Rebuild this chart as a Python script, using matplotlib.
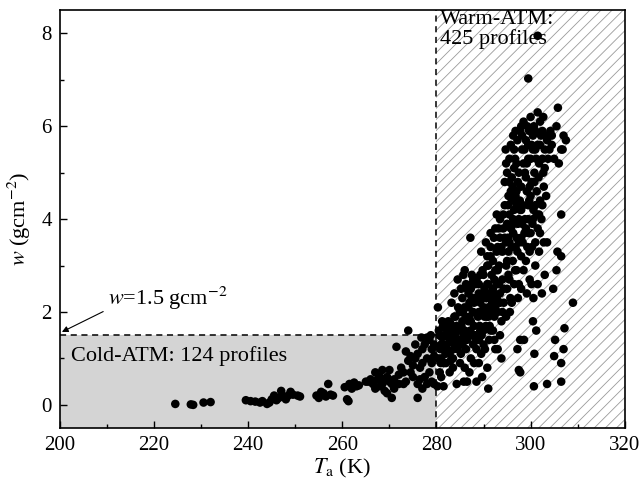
import matplotlib
matplotlib.use("Agg")
import matplotlib.pyplot as plt
from matplotlib.patches import Rectangle
from matplotlib.ticker import MultipleLocator

plt.rcParams['font.family'] = ['Liberation Serif', 'DejaVu Serif']
plt.rcParams['mathtext.fontset'] = 'stix'
plt.rcParams['hatch.linewidth'] = 0.6

# cold-atmosphere profiles (Ta < 280 K)
cold_t = [224.5, 227.8, 228.3, 230.5, 232.0,
          239.5, 240.5, 241.5, 242.5, 243.0, 244.0, 244.5, 245.0, 245.5, 246.0,
          246.5, 247.0, 247.5, 248.0, 248.5, 249.0, 249.5, 250.5, 251.0,
          254.5, 255.0, 255.5, 256.0, 256.5, 257.0, 257.5, 258.0,
          260.5, 261.0, 261.3, 261.5, 262.0, 262.5, 263.0, 263.5,
          265.5, 266.5, 267.0, 267.5, 268.0, 268.5, 269.0, 269.5, 270.0, 270.5,
          271.0, 271.5, 272.0, 272.5, 273.0, 273.5, 274.0, 274.5, 275.0, 275.5,
          276.0, 276.5, 277.0, 277.5, 278.0, 278.5, 279.0, 279.5,
          276.0, 276.5, 277.0, 277.5, 278.0, 278.5, 279.0, 279.5, 278.0, 279.0,
          277.0, 276.0, 275.0, 274.0, 274.5, 273.0, 272.0, 271.0, 270.0, 269.0,
          268.0, 267.0, 266.0, 265.0, 269.5, 268.5, 270.5, 273.5, 275.5, 276.8,
          278.8, 279.5]
cold_w = [0.02, 0.01, 0.0, 0.05, 0.06,
          0.10, 0.08, 0.07, 0.05, 0.08, 0.02, 0.05, 0.12, 0.20, 0.10,
          0.15, 0.30, 0.18, 0.12, 0.20, 0.28, 0.22, 0.20, 0.18,
          0.20, 0.15, 0.28, 0.25, 0.18, 0.45, 0.22, 0.20,
          0.38, 0.12, 0.08, 0.45, 0.35, 0.48, 0.40, 0.42,
          0.50, 0.45, 0.70, 0.55, 0.40, 0.75, 0.30, 0.60, 0.50, 0.15,
          0.55, 1.25, 0.45, 0.80, 0.70, 1.15, 1.60, 1.05, 0.85, 1.00,
          0.15, 0.55, 0.90, 1.30, 1.45, 0.70, 1.20, 0.45,
          1.10, 0.80, 1.20, 0.60, 1.00, 1.40, 0.90, 1.30, 0.45, 0.50,
          0.35, 0.45, 0.60, 0.95, 0.70, 0.45, 0.65, 0.35, 0.75, 0.55,
          0.60, 0.35, 0.55, 0.50, 0.25, 0.45, 0.45, 0.50, 1.30, 1.45,
          1.50, 1.05]

# warm-atmosphere profiles (Ta >= 280 K)
warm_t = [280.3, 280.5, 281.0, 281.0, 280.7, 281.5, 280.2, 281.2, 281.8, 280.8, 281.5, 281.2, 280.4, 281.9,
          282.5, 283.0, 282.3, 283.5, 283.5, 282.8, 283.2, 283.8, 282.0, 283.0, 283.7, 282.6,
          284.5, 285.0, 285.5, 284.8, 285.2, 284.3, 285.8, 285.5, 285.0, 285.8, 284.3, 285.6, 286.0,
          286.5, 287.0, 287.5, 287.2, 286.8, 287.5, 286.3, 287.8, 287.3, 286.5, 287.5, 286.8, 287.2, 287.8, 286.2,
          288.5, 289.0, 289.5, 289.3, 288.8, 289.6, 288.4, 289.0, 288.5, 289.8, 290.0, 289.2, 288.2, 289.7,
          290.5, 290.8, 291.0, 291.3, 290.7, 291.5, 290.3, 290.8, 291.0, 291.5, 291.8, 290.2, 291.2, 291.7,
          292.5, 293.0, 293.3, 292.8, 293.5, 292.3, 293.5, 292.5, 293.8, 293.5, 292.8, 294.0, 293.0, 292.2,
          294.5, 295.0, 295.3, 294.8, 295.5, 294.3, 295.6, 294.7, 295.0, 295.8, 294.5, 295.2, 295.7, 294.2, 295.5,
          296.5, 297.0, 297.3, 296.8, 297.5, 296.3, 297.2, 296.7, 297.5, 297.8, 297.2, 297.5, 297.8, 296.3, 297.8,
          296.5, 297.0, 296.2, 297.3, 298.0,
          298.5, 299.0, 299.5, 298.8, 299.2, 298.4, 299.5, 298.7, 299.3, 298.5, 299.8, 299.2, 298.6, 299.5,
          298.2, 299.8, 299.0, 298.2, 299.7, 299.3,
          300.5, 301.0, 301.5, 300.8, 301.3, 300.6, 301.5, 300.3, 301.0, 301.5, 300.6, 301.2, 300.5, 300.8,
          300.7, 301.5, 302.0, 301.8, 300.2, 302.0, 301.8, 300.2,
          302.5, 303.0, 302.7, 303.3, 302.3, 302.8, 303.0, 302.4, 303.5, 303.5, 302.5, 303.5,
          304.5, 305.0, 305.5, 304.8, 305.2, 305.0, 305.5, 305.7, 304.5, 305.8, 306.0,
          306.5, 307.0, 306.5, 306.5, 307.2, 307.0, 306.5, 306.5, 309.0, 307.5, 306.8,
          295.5, 296.0, 296.5, 297.0, 297.5, 298.0, 298.5, 299.0, 299.5, 300.0, 300.5, 301.0, 301.5, 302.0,
          302.5, 303.0, 300.0, 299.5, 298.0, 297.0, 296.0, 300.5, 301.0, 296.5, 298.0, 300.0, 301.0, 299.0,
          297.5, 302.0,
          290.0, 291.0, 292.0, 293.0, 294.0, 295.0, 296.0, 289.0, 290.5, 292.0, 293.5, 295.0, 296.5, 288.0,
          289.5, 291.0, 292.5, 294.0, 295.5, 294.5, 293.5, 291.5, 296.0, 297.0, 298.0,
          282.0, 283.0, 284.0, 284.5, 285.5, 286.0, 286.5, 287.0, 288.0, 288.5, 289.0, 290.0, 290.5, 291.0,
          292.0, 293.0, 284.0, 286.0, 287.5, 289.0, 285.0, 286.0, 287.0, 288.0, 289.5, 283.5, 282.0, 281.0,
          290.0,
          294.8, 295.3, 295.8, 296.2, 296.7, 297.2, 297.7, 298.2, 298.7, 299.2, 299.7, 300.2, 300.7, 301.2,
          301.7, 302.2, 302.7, 303.2, 303.7, 304.2, 304.0, 300.0, 298.0, 296.8, 295.5, 297.5, 300.8, 299.8,
          301.8, 302.8,
          291.5, 292.2, 292.8, 293.2, 293.8, 294.2, 294.8, 295.2, 295.8, 296.3, 296.8, 297.3, 297.8, 298.3,
          298.8, 299.6, 300.4, 301.3, 290.8, 292.5,
          283.2, 283.8, 284.6, 285.2, 285.7, 286.3, 286.8, 287.3, 287.8, 288.3, 288.8, 289.3, 289.8, 290.3,
          290.8, 291.3, 291.8, 292.3, 292.8, 293.3, 293.8, 294.3, 294.8, 295.3, 284.2, 285.3, 286.2, 287.3,
          288.2, 289.3, 290.2, 291.3, 292.3, 280.6, 281.4, 282.3, 282.8, 283.3, 281.6, 280.9]
warm_w = [2.10, 1.60, 1.30, 1.00, 0.70, 0.40, 0.40, 1.80, 1.50, 1.20, 0.90, 1.45, 1.00, 1.10,
          1.80, 1.50, 1.20, 1.60, 1.00, 0.70, 1.35, 1.90, 1.65, 0.95, 1.20, 1.45,
          2.70, 2.00, 1.80, 1.40, 1.10, 0.45, 0.50, 2.30, 1.60, 1.50, 1.70, 2.00, 2.90,
          2.50, 2.20, 2.80, 3.60, 1.80, 1.50, 1.20, 2.00, 1.00, 0.50, 2.60, 2.40, 1.60, 1.30, 1.90,
          2.70, 2.40, 3.30, 2.20, 1.90, 1.50, 1.40, 0.90, 0.50, 2.90, 2.10, 1.70, 2.30, 0.60,
          3.50, 3.00, 2.60, 2.30, 1.90, 1.60, 1.20, 0.80, 0.35, 3.20, 2.00, 2.50, 1.40, 2.80,
          3.80, 3.40, 3.00, 2.60, 2.20, 1.90, 1.50, 1.20, 1.00, 4.00, 3.30, 2.70, 2.00, 2.40,
          4.30, 3.90, 3.30, 3.00, 2.70, 2.50, 2.00, 5.50, 5.00, 4.60, 4.80, 3.60, 2.30, 3.80, 4.10,
          5.50, 5.20, 4.80, 4.50, 4.00, 3.70, 3.30, 2.90, 2.60, 1.40, 1.20, 0.75, 0.70, 5.80, 5.90,
          4.20, 3.60, 3.10, 2.30, 2.50,
          6.10, 5.70, 5.30, 5.00, 4.60, 4.30, 4.00, 3.70, 3.40, 2.90, 2.70, 2.40, 1.40, 7.03,
          5.50, 4.70, 3.10, 3.90, 5.90, 6.00,
          5.80, 5.50, 6.30, 5.00, 4.60, 4.20, 3.80, 3.40, 3.00, 2.60, 2.30, 1.60, 1.80, 1.10,
          0.40, 7.95, 6.10, 5.20, 4.80, 4.40, 3.30, 2.60,
          5.90, 5.50, 5.00, 4.50, 4.00, 3.50, 2.80, 2.40, 0.45, 5.70, 4.30, 3.50,
          5.80, 5.30, 6.00, 2.50, 1.40, 1.05, 2.90, 3.30, 5.60, 6.40, 5.20,
          5.50, 5.80, 4.10, 3.20, 1.65, 1.20, 0.90, 0.50, 2.20, 5.70, 5.50,
          5.30, 4.90, 5.10, 4.60, 5.00, 4.70, 5.20, 4.90, 5.60, 5.30, 5.50, 5.90, 5.60, 5.60,
          5.30, 5.10, 4.50, 4.30, 4.20, 4.30, 4.40, 4.00, 4.30, 3.90, 3.60, 3.70, 3.50, 3.80,
          3.50, 3.70,
          2.80, 3.00, 3.10, 2.90, 3.30, 3.10, 3.40, 2.60, 2.30, 2.50, 2.40, 2.50, 2.60, 2.20,
          2.00, 2.10, 2.10, 2.00, 3.50, 3.60, 3.60, 3.70, 2.20, 2.90, 3.20,
          1.30, 1.75, 1.50, 1.20, 1.30, 1.60, 1.40, 1.90, 1.70, 1.20, 1.40, 1.60, 1.70, 1.90,
          1.60, 1.20, 1.90, 2.10, 2.30, 2.00, 0.90, 0.80, 0.70, 0.90, 1.10, 0.80, 0.90, 0.60,
          1.30,
          5.20, 4.50, 5.60, 4.70, 5.30, 5.70, 4.40, 5.80, 5.50, 5.20, 4.40, 5.60, 6.00, 5.30,
          4.90, 5.80, 6.20, 5.80, 5.30, 5.90, 5.50, 6.20, 6.00, 5.90, 4.80, 4.30, 4.80, 3.30,
          4.10, 4.70,
          3.40, 3.60, 4.10, 3.80, 3.40, 4.10, 3.50, 4.30, 3.80, 4.00, 3.40, 3.90, 4.20, 3.50,
          4.00, 3.70, 3.90, 4.10, 3.20, 2.90,
          2.20, 2.40, 2.10, 2.50, 2.80, 2.60, 2.10, 2.50, 2.70, 2.60, 2.30, 2.80, 2.40, 2.00,
          2.60, 2.40, 2.20, 2.70, 2.30, 2.60, 1.80, 2.20, 1.90, 2.80, 1.30, 1.70, 1.50, 1.80,
          1.50, 1.60, 1.90, 1.70, 1.40, 1.50, 1.70, 1.60, 1.10, 1.40, 1.20, 0.90]

fig = plt.figure(figsize=(6.41, 4.87), dpi=100)
ax = fig.add_axes([0.0936, 0.121, 0.881, 0.858])

ax.set_xlim(200, 320)
ax.set_ylim(-0.5, 8.5)

# shaded cold region and hatched warm region
ax.add_patch(Rectangle((200, -0.5), 80, 2.0, facecolor='#d4d4d4', edgecolor='none', zorder=0))
ax.add_patch(Rectangle((280, -0.5), 40, 9.0, facecolor='white', edgecolor='#9a9a9a',
                       hatch='///', linewidth=0, zorder=0))
ax.plot([200, 280], [1.5, 1.5], 'k--', lw=1.1, dashes=(4, 3), zorder=1)
ax.plot([280, 280], [-0.5, 8.5], 'k--', lw=1.1, dashes=(4, 3), zorder=1)

ax.scatter(cold_t, cold_w, s=38, c='black', edgecolors='none', zorder=3)
ax.scatter(warm_t, warm_w, s=38, c='black', edgecolors='none', zorder=3)

ax.text(202.3, 1.05, 'Cold-ATM: 124 profiles', fontsize=16, va='center', ha='left')
ax.text(280.7, 8.5, 'Warm-ATM:\n425 profiles', fontsize=16, va='top', ha='left', linespacing=1.0)
ax.annotate(r'$w$=1.5 gcm$^{-2}$', xy=(200.4, 1.57), xytext=(210.3, 2.3), fontsize=16,
            va='center', ha='left',
            arrowprops=dict(arrowstyle='-|>', color='black', lw=0.8, shrinkA=2, shrinkB=0,
                            mutation_scale=9, relpos=(0.0, 0.1)))

ax.xaxis.set_major_locator(MultipleLocator(20))
ax.xaxis.set_minor_locator(MultipleLocator(10))
ax.yaxis.set_major_locator(MultipleLocator(2))
ax.yaxis.set_minor_locator(MultipleLocator(1))
ax.tick_params(which='both', direction='in', top=False, right=False, labelsize=15)
ax.tick_params(which='major', length=5, width=1, pad=6)
ax.tick_params(which='minor', length=3, width=1)
for sp in ax.spines.values():
    sp.set_linewidth(1.2)

ax.set_xlabel(r'$T_{\rm a}$ (K)', fontsize=16, labelpad=1)
ax.set_ylabel(r'$w$ (gcm$^{-2}$)', fontsize=16, labelpad=6)

fig.savefig('out.png', dpi=100)
plt.close(fig)
